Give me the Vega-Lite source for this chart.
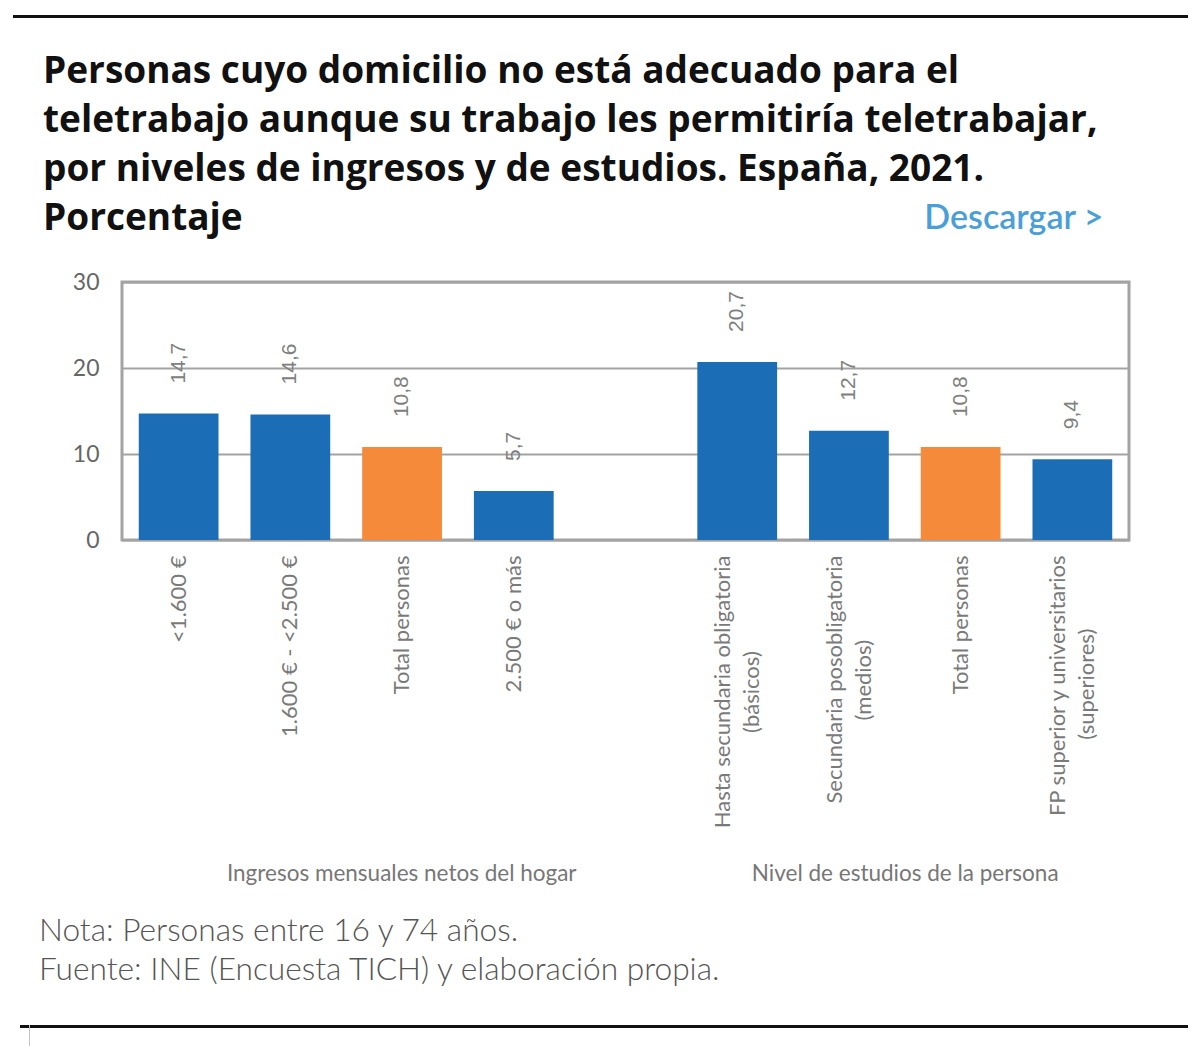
{
  "$schema": "https://vega.github.io/schema/vega-lite/v6.json",
  "background": "white",
  "padding": {"left": 10, "top": 13, "right": 15, "bottom": 0},
  "spacing": 0,
  "bounds": "flush",
  "config": {
    "view": {"stroke": null},
    "locale": {"number": {"decimal": ",", "thousands": ".", "grouping": [3], "currency": ["", " €"]}},
    "concat": {"spacing": 0}
  },
  "vconcat": [
    {
      "width": 1175,
      "height": 3,
      "view": {"fill": "#111111", "stroke": null},
      "data": {"values": [{}]},
      "mark": {"type": "point", "opacity": 0},
      "encoding": {},
      "title": {
        "text": [
          "Personas cuyo domicilio no está adecuado para el",
          "teletrabajo aunque su trabajo les permitiría teletrabajar,",
          "por niveles de ingresos y de estudios. España, 2021.",
          "Porcentaje"
        ],
        "orient": "bottom",
        "anchor": "start",
        "frame": "group",
        "dx": 30,
        "offset": 35,
        "baseline": "top",
        "font": "Open Sans",
        "fontSize": 37,
        "fontWeight": "bold",
        "color": "#111111",
        "lineHeight": 49
      }
    },
    {"width": 1, "height": 264, "data": {"values": [{}]}, "mark": {"type": "point", "opacity": 0}, "encoding": {}},
    {
      "spacing": 0,
      "bounds": "flush",
      "hconcat": [
        {"width": 109, "height": 258, "data": {"values": [{}]}, "mark": {"type": "point", "opacity": 0}, "encoding": {}},
        {
          "width": 1007,
          "height": 258,
          "view": {"stroke": "#a3a3a3", "strokeWidth": 3},
          "data": {
            "values": [
              {"key": "k1", "value": 14.7, "tipo": "grupo"},
              {"key": "k2", "value": 14.6, "tipo": "grupo"},
              {"key": "k3", "value": 10.8, "tipo": "total"},
              {"key": "k4", "value": 5.7, "tipo": "grupo"},
              {"key": "k6", "value": 20.7, "tipo": "grupo"},
              {"key": "k7", "value": 12.7, "tipo": "grupo"},
              {"key": "k8", "value": 10.8, "tipo": "total"},
              {"key": "k9", "value": 9.4, "tipo": "grupo"}
            ]
          },
          "encoding": {
            "x": {
              "field": "key",
              "type": "nominal",
              "sort": null,
              "scale": {
                "domain": ["k1", "k2", "k3", "k4", "k5", "k6", "k7", "k8", "k9"],
                "paddingInner": 0.286,
                "paddingOuter": 0.15
              },
              "axis": {
                "title": null,
                "labelExpr": "{'k1': '<1.600 €', 'k2': '1.600 € - <2.500 €', 'k3': 'Total personas', 'k4': '2.500 € o más', 'k5': '', 'k6': ['Hasta secundaria obligatoria', '(básicos)\u00a0\u00a0\u00a0\u00a0\u00a0\u00a0\u00a0\u00a0\u00a0\u00a0\u00a0\u00a0\u00a0\u00a0\u00a0\u00a0\u00a0\u200b'], 'k7': ['Secundaria posobligatoria', '(medios)\u00a0\u00a0\u00a0\u00a0\u00a0\u00a0\u00a0\u00a0\u00a0\u00a0\u00a0\u00a0\u00a0\u00a0\u00a0\u200b'], 'k8': 'Total personas', 'k9': ['FP superior y universitarios', '(superiores)\u00a0\u00a0\u00a0\u00a0\u00a0\u00a0\u00a0\u00a0\u00a0\u00a0\u00a0\u00a0\u00a0\u200b']}[datum.value]",
                "labelAngle": -90,
                "labelFont": "Lato",
                "labelFontSize": 22,
                "labelColor": "#7a7a7a",
                "labelPadding": 15,
                "labelLimit": 0,
                "labelLineHeight": 29,
                "labelOverlap": false,
                "labelOffset": {"condition": {"test": "indexof(['k6', 'k7', 'k9'], datum.value) >= 0", "value": -14}, "value": 0},
                "domain": false,
                "ticks": false
              }
            },
            "y": {
              "field": "value",
              "type": "quantitative",
              "scale": {"domain": [0, 30], "nice": false},
              "axis": {
                "values": [0, 10, 20, 30],
                "grid": true,
                "gridColor": "#a3a3a3",
                "gridWidth": 2,
                "domain": false,
                "ticks": false,
                "labelFont": "Lato",
                "labelFontSize": 23,
                "labelColor": "#666666",
                "labelPadding": 23,
                "title": "Descargar >",
                "titleAngle": 0,
                "titleAlign": "right",
                "titleBaseline": "alphabetic",
                "titleX": 981,
                "titleY": -54,
                "titleFont": "Lato",
                "titleFontSize": 34,
                "titleFontWeight": 600,
                "titleColor": "#4a9fd8"
              }
            }
          },
          "layer": [
            {
              "mark": {"type": "bar"},
              "encoding": {
                "color": {
                  "field": "tipo",
                  "type": "nominal",
                  "scale": {"domain": ["grupo", "total"], "range": ["#1B6EB5", "#F58A3A"]},
                  "legend": null
                }
              }
            },
            {
              "mark": {
                "type": "text",
                "angle": 270,
                "align": "left",
                "baseline": "middle",
                "dx": 30,
                "font": "Liberation Sans",
                "fontSize": 21,
                "color": "#808080"
              },
              "encoding": {
                "text": {"field": "value", "type": "quantitative", "format": ".1f"}
              }
            }
          ]
        }
      ]
    },
    {"width": 1, "height": 577, "data": {"values": [{}]}, "mark": {"type": "point", "opacity": 0}, "encoding": {}},
    {
      "spacing": 0,
      "bounds": "flush",
      "hconcat": [
        {"width": 109, "height": 30, "data": {"values": [{}]}, "mark": {"type": "point", "opacity": 0}, "encoding": {}},
        {
          "width": 1007,
          "height": 30,
          "data": {
            "values": [
              {"grupo": "Ingresos mensuales netos del hogar", "pos": 3},
              {"grupo": "Nivel de estudios de la persona", "pos": 7.5}
            ]
          },
          "mark": {"type": "text", "font": "Lato", "fontSize": 22.5, "color": "#777777", "baseline": "middle"},
          "encoding": {
            "x": {"field": "pos", "type": "quantitative", "scale": {"domain": [0.5, 9.5], "nice": false, "zero": false}, "axis": null},
            "text": {"field": "grupo", "type": "nominal"}
          },
          "title": {
            "text": ["Nota: Personas entre 16 y 74 años.", "Fuente: INE (Encuesta TICH) y elaboración propia."],
            "orient": "bottom",
            "anchor": "start",
            "frame": "group",
            "dx": -83,
            "offset": 27,
            "baseline": "top",
            "font": "Lato",
            "fontSize": 31.7,
            "fontWeight": 300,
            "color": "#555555",
            "lineHeight": 39
          }
        }
      ]
    },
    {"width": 1, "height": 166, "data": {"values": [{}]}, "mark": {"type": "point", "opacity": 0}, "encoding": {}},
    {
      "spacing": 0,
      "bounds": "flush",
      "hconcat": [
        {"width": 7, "height": 3, "data": {"values": [{}]}, "mark": {"type": "point", "opacity": 0}, "encoding": {}},
        {
          "width": 1168,
          "height": 3,
          "view": {"fill": "#111111", "stroke": null},
          "data": {"values": [{}]},
          "mark": {"type": "point", "opacity": 0},
          "encoding": {}
        }
      ]
    },
    {
      "spacing": 0,
      "bounds": "flush",
      "hconcat": [
        {"width": 16, "height": 21, "data": {"values": [{}]}, "mark": {"type": "point", "opacity": 0}, "encoding": {}},
        {
          "width": 1,
          "height": 21,
          "view": {"fill": "#c4c4c4", "stroke": null},
          "data": {"values": [{}]},
          "mark": {"type": "point", "opacity": 0},
          "encoding": {}
        }
      ]
    }
  ]
}
